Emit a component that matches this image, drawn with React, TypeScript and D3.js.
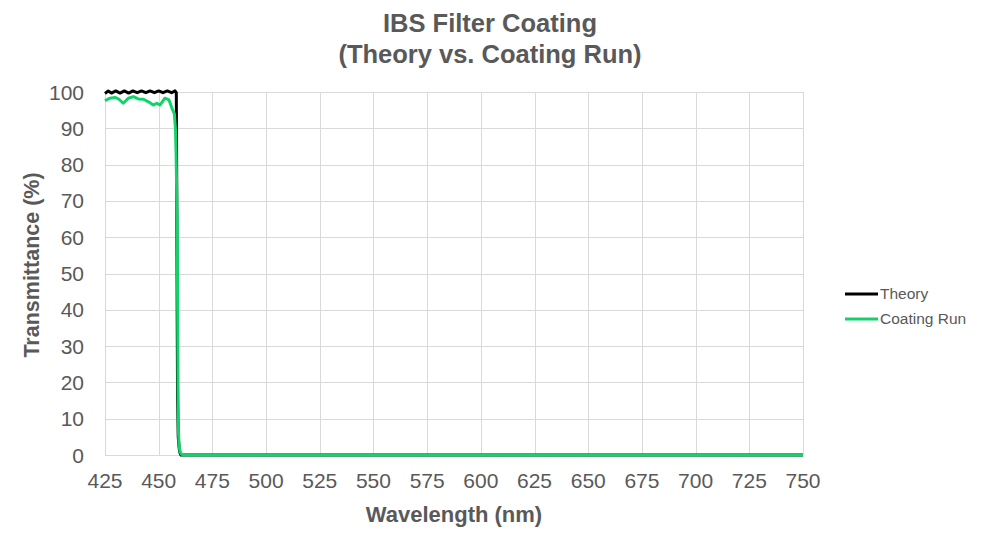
import React from 'react';
import * as d3 from 'd3';

// wavelength (nm) / transmittance (%)
const theoryNm = [425, 426.5, 428, 430, 432, 434, 436, 438, 440, 442, 444, 446, 448, 450, 452, 454, 456, 457.6, 458.2, 458.4, 458.6, 458.8, 459.1, 459.5, 459.9, 460.4, 500, 600, 700, 750];
const theoryT = [99.6, 100.3, 99.7, 100.3, 99.7, 100.3, 99.7, 100.3, 99.8, 100.3, 99.8, 100.3, 99.8, 100.3, 99.8, 100.3, 99.8, 100.3, 99.8, 75, 40, 15, 5, 2, 0.6, 0, 0, 0, 0, 0];

const runNm = [425, 427.3, 429.7, 431.5, 433.5, 435.9, 438.2, 440.5, 442.9, 445.2, 447.5, 449.1, 450.6, 452.9, 454.8, 456.4, 457.3, 457.8, 458.1, 458.6, 458.9, 459.1, 459.5, 460.0, 460.6, 461.3, 500, 600, 700, 750];
const runT = [97.6, 98.3, 98.5, 98.0, 96.9, 98.3, 98.7, 98.1, 98.0, 97.3, 96.4, 96.9, 96.4, 98.3, 97.8, 95.2, 94.0, 90, 83, 65, 30, 8, 2.5, 0.8, 0.2, 0, 0, 0, 0, 0];

const xTicks = [425, 450, 475, 500, 525, 550, 575, 600, 625, 650, 675, 700, 725, 750];
const yTicks = [0, 10, 20, 30, 40, 50, 60, 70, 80, 90, 100];

const series = [
    { name: 'Theory', nm: theoryNm, t: theoryT, color: '#000000' },
    { name: 'Coating Run', nm: runNm, t: runT, color: '#12d36a' },
];

const W = 982;
const H = 539;
const left = 105, right = 803, top = 92, bottom = 455;
const textColor = '#595959';
const font = '"Liberation Sans", Arial, sans-serif';

export default function App() {
    const x = d3.scaleLinear().domain([425, 750]).range([left, right]);
    const y = d3.scaleLinear().domain([0, 100]).range([bottom, top]);

    const line = d3.line<[number, number]>()
        .x(d => x(d[0]))
        .y(d => y(d[1]));

    return (
        <svg width={W} height={H} style={{ position: 'absolute', left: 0, top: 0, background: '#fff' }} fontFamily={font}>
            <rect width={W} height={H} fill="#fff" />
            <text x={490} y={32} textAnchor="middle" fontSize={25.5} fontWeight="bold" fill={textColor}>IBS Filter Coating</text>
            <text x={490} y={63} textAnchor="middle" fontSize={25.5} fontWeight="bold" fill={textColor}>(Theory vs. Coating Run)</text>

            {/* grid */}
            <g stroke="#d9d9d9" strokeWidth={1}>
                {yTicks.map(t => (
                    <line key={'gy' + t} x1={left} x2={right} y1={Math.round(y(t)) + 0.5} y2={Math.round(y(t)) + 0.5} />
                ))}
                {xTicks.map(t => (
                    <line key={'gx' + t} x1={Math.round(x(t)) + 0.5} x2={Math.round(x(t)) + 0.5} y1={top} y2={bottom} />
                ))}
            </g>

            {/* tick labels */}
            <g fill={textColor} fontSize={21}>
                {yTicks.map(t => (
                    <text key={'ly' + t} x={84} y={y(t)} dy="0.36em" textAnchor="end">{t}</text>
                ))}
                {xTicks.map(t => (
                    <text key={'lx' + t} x={x(t)} y={488} textAnchor="middle">{t}</text>
                ))}
            </g>

            <text x={454} y={522} textAnchor="middle" fontSize={22} fontWeight="bold" fill={textColor}>Wavelength (nm)</text>
            <text transform={`translate(39,265) rotate(-90)`} textAnchor="middle" fontSize={21.5} fontWeight="bold" fill={textColor}>Transmittance (%)</text>

            {/* series: coating run drawn over theory */}
            {series.map(s => (
                <path key={s.name}
                    d={line(s.nm.map((n, i) => [n, s.t[i]] as [number, number])) || ''}
                    fill="none" stroke={s.color} strokeWidth={3} strokeLinejoin="round" />
            ))}

            {/* legend */}
            {series.map((s, i) => (
                <g key={'lg' + s.name} transform={`translate(845,${294 + i * 25})`}>
                    <line x1={0} x2={33} y1={0} y2={0} stroke={s.color} strokeWidth={3} />
                    <text x={35} y={0} dy="0.35em" fontSize={15.5} fill={textColor}>{s.name}</text>
                </g>
            ))}
        </svg>
    );
}
